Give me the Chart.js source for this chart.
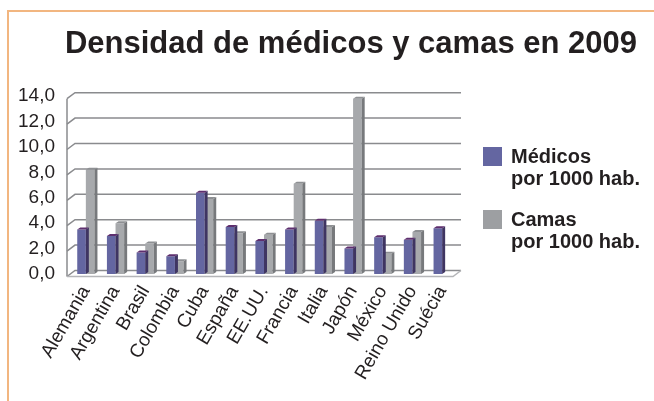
<!DOCTYPE html>
<html>
<head>
<meta charset="utf-8">
<script src="https://cdn.jsdelivr.net/npm/chart.js@4.4.1/dist/chart.umd.min.js"></script>
<style>
    body { margin: 0; background: #fff; }
    #wrap { position: relative; width: 654px; height: 401px; overflow: hidden; }
    #frame { position: absolute; left: 7px; top: 10px; width: 700px; height: 450px;
             border-top: 2px solid #f2b680; border-left: 2px solid #f2b680; }
    canvas { position: absolute; left: 0; top: 0; }
    .legend { position: absolute; left: 483px; font: bold 20px "Liberation Sans", Arial, sans-serif;
              color: #231f20; line-height: 22px; }
    .legend .box { position: absolute; left: 0; top: 0; width: 19px; height: 19px; }
    .legend .txt { position: absolute; left: 28px; top: -2px; white-space: nowrap; }
</style>
</head>
<body>
<div id="wrap">
    <div id="frame"></div>
    <canvas id="chart" width="654" height="401"></canvas>
    <div class="legend" style="top:147px"><div class="box" id="box-medicos"></div><div class="txt">Médicos<br>por 1000 hab.</div></div>
    <div class="legend" style="top:210px"><div class="box" id="box-camas"></div><div class="txt">Camas<br>por 1000 hab.</div></div>
</div>
<script>
const paises = ['Alemania', 'Argentina', 'Brasil', 'Colombia', 'Cuba', 'España', 'EE.UU.',
    'Francia', 'Italia', 'Japón', 'México', 'Reino Unido', 'Suécia'];
const medicos = [3.5, 3.0, 1.7, 1.4, 6.4, 3.7, 2.6, 3.5, 4.2, 2.0, 2.9, 2.7, 3.6];
const camas = [8.2, 4.0, 2.4, 1.0, 5.9, 3.2, 3.1, 7.1, 3.7, 13.8, 1.6, 3.3, null];
const yTickLabels = ['0,0', '2,0', '4,0', '6,0', '8,0', '10,0', '12,0', '14,0'];

const colors = [
    { front: '#6466a1', top: '#5e2f6e', side: '#3f3562' },
    { front: '#a7a9ac', top: '#8e9093', side: '#77797c' }
];

document.getElementById('box-medicos').style.background = colors[0].front;
document.getElementById('box-camas').style.background = '#9d9fa2';

const font = '"Liberation Sans", Arial, sans-serif';
const barDepth = { x: 3, y: 2 };
const wall = { x: 4, front: 2.5, back: 3.5 };

// fake 3d: back wall gridlines, floor and side/top faces of the bars
const pseudo3d = {
    id: 'pseudo3d',
    beforeDatasetsDraw(chart) {
        const { ctx, chartArea: a, scales: { y } } = chart;
        ctx.save();
        ctx.lineWidth = 1.5;
        ctx.strokeStyle = '#8a8b8e';
        y.ticks.forEach(t => {
            const py = y.getPixelForValue(t.value);
            ctx.beginPath();
            ctx.moveTo(a.left - wall.x, py + wall.front);
            ctx.lineTo(a.left + wall.x, py - wall.back);
            ctx.lineTo(a.right + wall.x, py - wall.back);
            ctx.stroke();
        });
        const y0 = y.getPixelForValue(0);
        const yTop = y.getPixelForValue(y.max);
        ctx.beginPath();
        ctx.moveTo(a.left - wall.x, yTop + wall.front);
        ctx.lineTo(a.left - wall.x, y0 + wall.front);
        ctx.stroke();
        ctx.strokeStyle = '#b4b5b8';
        ctx.beginPath();
        ctx.moveTo(a.left - wall.x, y0 + wall.front);
        ctx.lineTo(a.right - wall.x, y0 + wall.front);
        ctx.lineTo(a.right + wall.x, y0 - wall.back);
        ctx.stroke();
        ctx.restore();
    },
    afterDatasetDraw(chart, args) {
        const ctx = chart.ctx;
        const c = colors[args.index];
        const values = chart.data.datasets[args.index].data;
        ctx.save();
        args.meta.data.forEach((bar, i) => {
            if (values[i] == null) return;
            const { x, y, base, width } = bar.getProps(['x', 'y', 'base', 'width'], true);
            const l = x - width / 2, r = x + width / 2;
            const dx = barDepth.x, dy = barDepth.y;
            ctx.fillStyle = c.side;
            ctx.beginPath();
            ctx.moveTo(r, y); ctx.lineTo(r + dx, y - dy); ctx.lineTo(r + dx, base - dy); ctx.lineTo(r, base);
            ctx.closePath(); ctx.fill();
            ctx.fillStyle = c.top;
            ctx.beginPath();
            ctx.moveTo(l, y); ctx.lineTo(l + dx, y - dy); ctx.lineTo(r + dx, y - dy); ctx.lineTo(r, y);
            ctx.closePath(); ctx.fill();
        });
        ctx.restore();
    }
};

new Chart(document.getElementById('chart'), {
    type: 'bar',
    data: {
        labels: paises,
        datasets: [{
            label: 'Médicos por 1000 hab.',
            data: medicos,
            backgroundColor: colors[0].front,
            categoryPercentage: 0.58,
            barPercentage: 1.0
        }, {
            label: 'Camas por 1000 hab.',
            data: camas,
            backgroundColor: colors[1].front,
            categoryPercentage: 0.58,
            barPercentage: 1.0
        }]
    },
    options: {
        responsive: false,
        animation: false,
        devicePixelRatio: 1,
        layout: { padding: { left: 0, right: 17, top: 0, bottom: 0 } },
        plugins: {
            legend: { display: false },
            tooltip: { enabled: false },
            title: {
                display: true,
                align: 'end',
                text: 'Densidad de médicos y camas en 2009',
                color: '#231f20',
                font: { family: font, size: 31, weight: 'bold', lineHeight: 1.2 },
                padding: { top: 26, bottom: 33 }
            }
        },
        scales: {
            x: {
                grid: { display: false, drawTicks: false },
                border: { display: false },
                ticks: {
                    color: '#231f20',
                    font: { family: font, size: 19 },
                    minRotation: 60,
                    maxRotation: 60,
                    padding: 8,
                    autoSkip: false
                },
                afterFit(scale) { scale.height = 127; }
            },
            y: {
                min: 0,
                max: 14,
                grid: { display: false, drawTicks: false },
                border: { display: false },
                ticks: {
                    stepSize: 2,
                    autoSkip: false,
                    color: '#231f20',
                    font: { family: font, size: 19 },
                    padding: 16,
                    callback: (value, index) => yTickLabels[index]
                },
                afterFit(scale) { scale.width = 71; }
            },
            yRight: {
                position: 'right',
                grid: { display: false, drawTicks: false },
                border: { display: false },
                ticks: { display: false },
                afterFit(scale) { scale.width = 180; }
            }
        }
    },
    plugins: [pseudo3d]
});
</script>
</body>
</html>
